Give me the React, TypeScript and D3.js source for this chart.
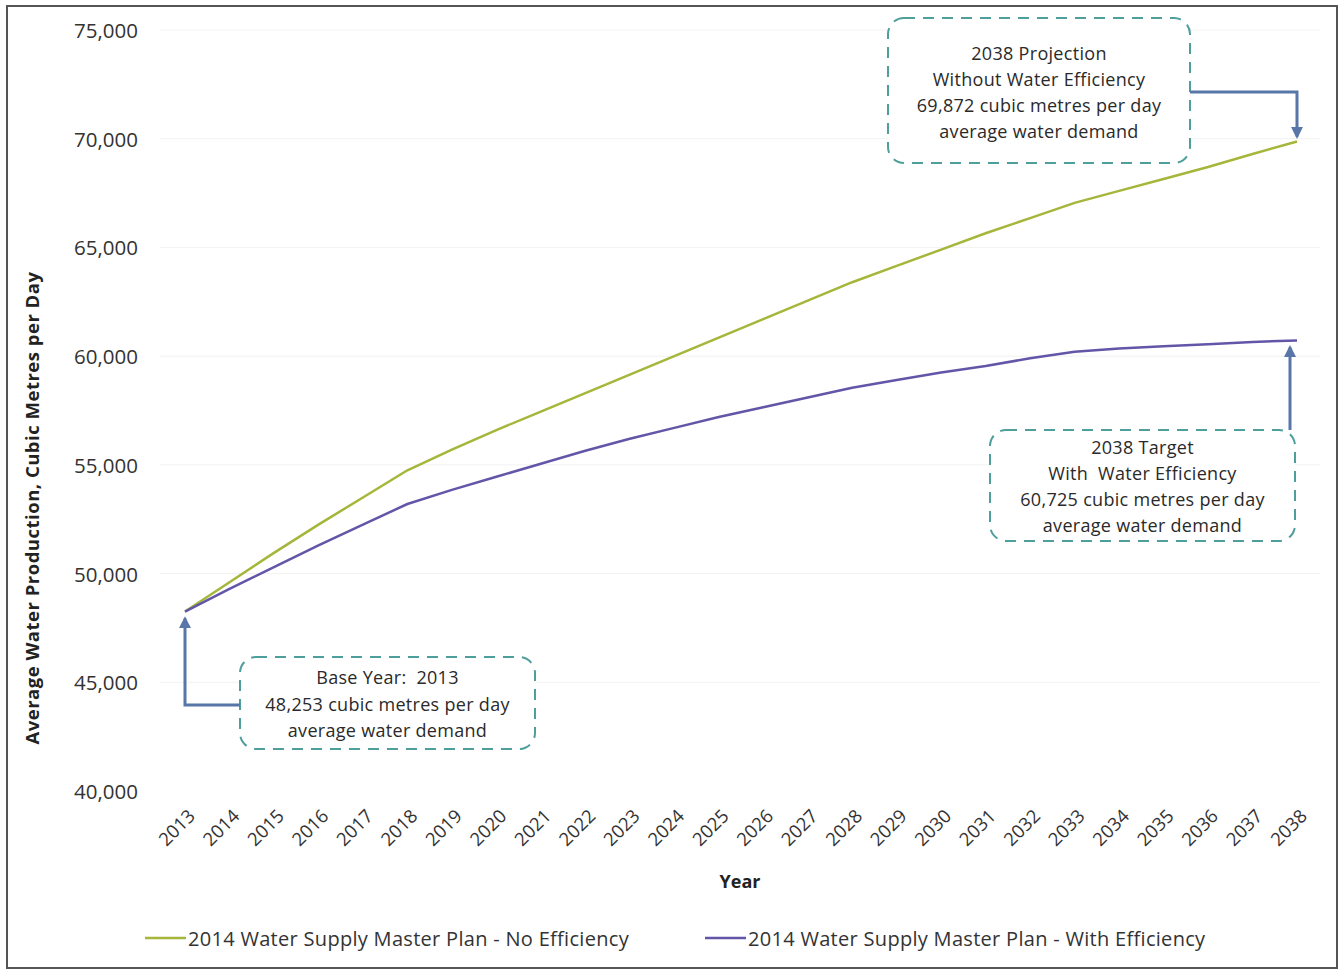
import React from "react";
import * as d3 from "d3";

// Projected average day demand (cubic metres per day), 2013–2038
const years: number[] = [
  2013, 2014, 2015, 2016, 2017, 2018, 2019, 2020, 2021, 2022, 2023, 2024, 2025,
  2026, 2027, 2028, 2029, 2030, 2031, 2032, 2033, 2034, 2035, 2036, 2037, 2038,
];

const noEfficiency: number[] = [
  48253, 49600, 50950, 52250, 53500, 54750, 55700, 56600, 57450, 58300, 59150,
  60000, 60850, 61700, 62550, 63400, 64150, 64900, 65650, 66350, 67050, 67600,
  68150, 68700, 69300, 69872,
];

const withEfficiency: number[] = [
  48253, 49300, 50300, 51300, 52250, 53200, 53850, 54450, 55050, 55650, 56200,
  56700, 57200, 57650, 58100, 58550, 58900, 59250, 59550, 59900, 60200, 60350,
  60450, 60550, 60650, 60725,
];

const yTicks: number[] = [40000, 45000, 50000, 55000, 60000, 65000, 70000, 75000];

const seriesNames: string[] = [
  "2014 Water Supply Master Plan - No Efficiency",
  "2014 Water Supply Master Plan - With Efficiency",
];

const projectionNote: string[] = [
  "2038 Projection",
  "Without Water Efficiency",
  "69,872 cubic metres per day",
  "average water demand",
];
const targetNote: string[] = [
  "2038 Target",
  "With  Water Efficiency",
  "60,725 cubic metres per day",
  "average water demand",
];
const baseNote: string[] = [
  "Base Year:  2013",
  "48,253 cubic metres per day",
  "average water demand",
];

const W = 1342;
const H = 970;
const FONT = "'Open Sans', Lato, sans-serif";
const GREEN = "#a6b63a";
const PURPLE = "#6256a8";
const ARROW = "#5877a8";
const BOX = "#4e9e9c";

export default function App() {
  const x = d3.scaleLinear().domain([2013, 2038]).range([185, 1297]);
  const y = d3.scaleLinear().domain([40000, 75000]).range([791, 30]);
  const fmt = d3.format(",");

  const line = d3
    .line<number>()
    .x((_, i) => x(years[i]))
    .y((d) => y(d));

  const last = years.length - 1;

  const note = (
    lines: string[],
    bx: number,
    by: number,
    bw: number,
    bh: number,
    firstY: number,
    step: number
  ) => (
    <g>
      <rect
        x={bx}
        y={by}
        width={bw}
        height={bh}
        rx={16}
        ry={16}
        fill="#ffffff"
        stroke={BOX}
        strokeWidth={2}
        strokeDasharray="11 8"
      />
      {lines.map((t, i) => (
        <text
          key={i}
          x={bx + bw / 2}
          y={firstY + i * step}
          textAnchor="middle"
          dominantBaseline="central"
          fontSize={18}
          letterSpacing={0.3}
          fill="#2a2a2a"
          style={{ whiteSpace: "pre" }}
        >
          {t}
        </text>
      ))}
    </g>
  );

  return (
    <div style={{ position: "absolute", left: 0, top: 0 }}>
      <svg width={W} height={H} style={{ display: "block", fontFamily: FONT }}>
        <defs>
          <marker
            id="arrowhead"
            viewBox="0 0 10 10"
            refX="8"
            refY="5"
            markerWidth="4"
            markerHeight="4"
            orient="auto"
          >
            <path d="M0,0 L10,5 L0,10 z" fill={ARROW} />
          </marker>
        </defs>
        <rect x={0} y={0} width={W} height={H} fill="#ffffff" />
        <rect
          x={7}
          y={6}
          width={1330}
          height={962}
          fill="none"
          stroke="#555555"
          strokeWidth={2}
        />

        {/* faint horizontal gridlines */}
        {yTicks.slice(1).map((t) => (
          <line
            key={t}
            x1={160}
            x2={1320}
            y1={y(t)}
            y2={y(t)}
            stroke="#f2f2f2"
            strokeWidth={1}
          />
        ))}

        {/* y axis labels */}
        {yTicks.map((t) => (
          <text
            key={t}
            x={138}
            y={y(t)}
            textAnchor="end"
            dominantBaseline="central"
            fontSize={20.5}
            fill="#333333"
          >
            {fmt(t)}
          </text>
        ))}

        <text
          transform={`translate(31, 508) rotate(-90)`}
          textAnchor="middle"
          dominantBaseline="central"
          fontSize={18.5}
          letterSpacing={0.5}
          fontWeight="bold"
          fill="#222222"
        >
          Average Water Production, Cubic Metres per Day
        </text>

        {/* x axis labels */}
        {years.map((yr) => (
          <text
            key={yr}
            transform={`translate(${x(yr) + 6}, ${812}) rotate(-45)`}
            textAnchor="end"
            dominantBaseline="central"
            fontSize={18.5}
            fill="#333333"
          >
            {yr}
          </text>
        ))}
        <text
          x={740}
          y={881}
          textAnchor="middle"
          dominantBaseline="central"
          fontSize={18}
          fontWeight="bold"
          fill="#222222"
        >
          Year
        </text>

        {/* series */}
        <path
          d={line(noEfficiency) ?? ""}
          fill="none"
          stroke={GREEN}
          strokeWidth={2.5}
          strokeLinejoin="round"
        />
        <path
          d={line(withEfficiency) ?? ""}
          fill="none"
          stroke={PURPLE}
          strokeWidth={2.5}
          strokeLinejoin="round"
        />

        {/* annotations */}
        {note(projectionNote, 888, 18, 302, 145, 53, 26)}
        <polyline
          points={`1190,92 ${x(2038)},92 ${x(2038)},${y(noEfficiency[last]) - 5}`}
          fill="none"
          stroke={ARROW}
          strokeWidth={3}
          markerEnd="url(#arrowhead)"
        />

        {note(targetNote, 990, 430, 305, 111, 447, 26)}
        <polyline
          points={`1290,430 1290,${y(withEfficiency[last]) + 7}`}
          fill="none"
          stroke={ARROW}
          strokeWidth={3}
          markerEnd="url(#arrowhead)"
        />

        {note(baseNote, 240, 657, 295, 92, 677, 26.5)}
        <polyline
          points={`240,705 ${x(2013)},705 ${x(2013)},${y(noEfficiency[0]) + 7}`}
          fill="none"
          stroke={ARROW}
          strokeWidth={3}
          markerEnd="url(#arrowhead)"
        />

        {/* legend */}
        <line x1={145} x2={186} y1={938} y2={938} stroke={GREEN} strokeWidth={2.5} />
        <text
          x={188}
          y={938}
          dominantBaseline="central"
          fontSize={20}
          letterSpacing={0.3}
          fill="#333333"
        >
          {seriesNames[0]}
        </text>
        <line x1={705} x2={746} y1={938} y2={938} stroke={PURPLE} strokeWidth={2.5} />
        <text
          x={748}
          y={938}
          dominantBaseline="central"
          fontSize={20}
          letterSpacing={0.3}
          fill="#333333"
        >
          {seriesNames[1]}
        </text>
      </svg>
    </div>
  );
}
